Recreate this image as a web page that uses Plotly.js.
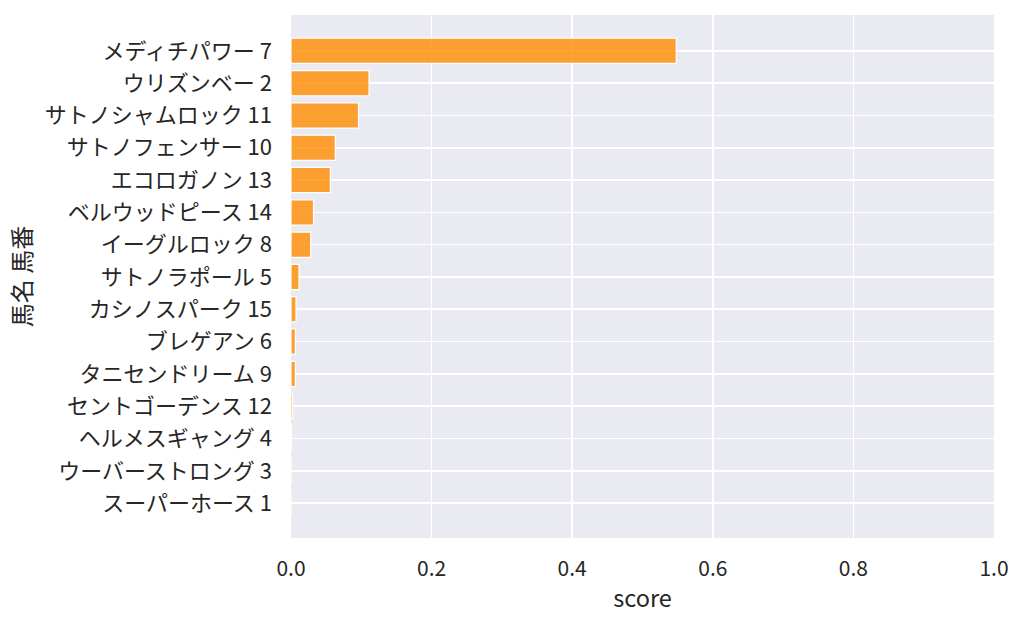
<!DOCTYPE html>
<html>
<head>
<meta charset="utf-8">
<script src="https://cdn.plot.ly/plotly-3.0.1.min.js"></script>
<style>
  body { margin: 0; background: #fff; }
  #chart { width: 1024px; height: 627px; }
</style>
</head>
<body>
<div id="chart"></div>
<script>
// horse labels, top to bottom
const horses = [
  "メディチパワー 7", "ウリズンベー 2", "サトノシャムロック 11", "サトノフェンサー 10",
  "エコロガノン 13", "ベルウッドピース 14", "イーグルロック 8", "サトノラポール 5",
  "カシノスパーク 15", "ブレゲアン 6", "タニセンドリーム 9", "セントゴーデンス 12",
  "ヘルメスギャング 4", "ウーバーストロング 3", "スーパーホース 1"
];
// scores
const scores = [
  0.548, 0.111, 0.096, 0.063,
  0.056, 0.032, 0.028, 0.0114,
  0.0071, 0.0062, 0.0062, 0.0024,
  0.0006, 0.0002, 0.0001
];
const xTicks = [0, 0.2, 0.4, 0.6, 0.8, 1.0];

const font = "'Noto Sans CJK JP', 'Noto Sans', sans-serif";
const textColor = "#262626";

const trace = {
  type: "bar",
  orientation: "h",
  y: horses,
  x: scores,
  width: 0.78,
  marker: {
    color: "rgba(255,140,0,0.8)",
    line: { color: "#ffffff", width: 1.2 }
  },
  hoverinfo: "x+y"
};

const layout = {
  width: 1024,
  height: 627,
  margin: { l: 291, r: 30, t: 15, b: 89 },
  paper_bgcolor: "#ffffff",
  plot_bgcolor: "#eaeaf2",
  font: { family: font, color: textColor, size: 21 },
  showlegend: false,
  xaxis: {
    range: [0, 1],
    tickvals: xTicks,
    tickformat: ".1f",
    showgrid: true,
    gridcolor: "#ffffff",
    gridwidth: 1.6,
    zeroline: false,
    showline: false,
    ticks: "",
    ticklabelstandoff: 16,
    tickfont: { size: 21 },
    title: { text: "score", font: { size: 23.5 }, standoff: 9 }
  },
  yaxis: {
    type: "category",
    categoryorder: "array",
    categoryarray: horses,
    range: [15.08, -1.11],
    showgrid: true,
    gridcolor: "#ffffff",
    gridwidth: 1.6,
    zeroline: false,
    showline: false,
    ticks: "",
    ticklabelstandoff: 18,
    tickfont: { size: 22 },
    title: { text: "馬名 馬番", font: { size: 24 }, standoff: 6 }
  },
  bargap: 0.2
};

Plotly.newPlot("chart", [trace], layout, { displayModeBar: false, staticPlot: true });
</script>
</body>
</html>
